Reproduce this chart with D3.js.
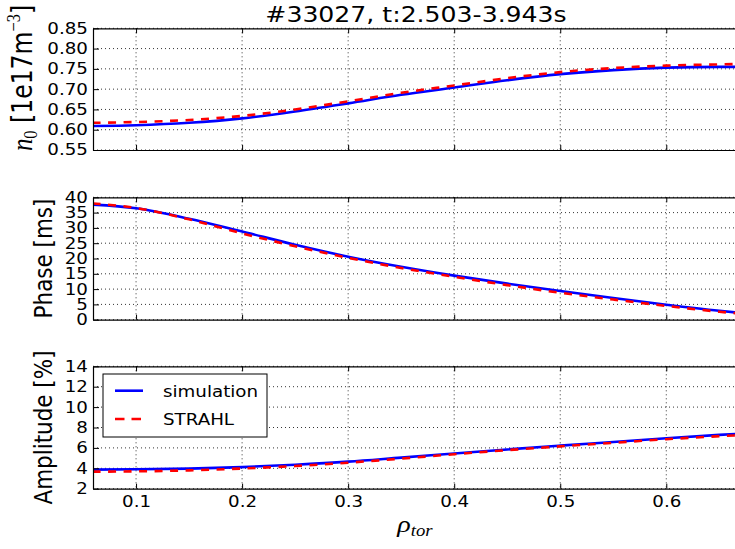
<!DOCTYPE html>
<html>
<head>
<meta charset="utf-8">
<script src="https://cdn.jsdelivr.net/npm/d3@7"></script>
<style>
  html, body { margin: 0; padding: 0; background: #fff; }
  svg { display: block; }
</style>
</head>
<body>
<div id="chart"></div>
<script>
// Radial coordinate (normalised toroidal flux radius)
const rho = [0.059, 0.10, 0.15, 0.20, 0.25, 0.30, 0.35, 0.40, 0.45, 0.50, 0.55, 0.60, 0.65, 0.67];

// Background density n0 [1e17 m^-3]
const densSim    = [0.609, 0.611, 0.617, 0.628, 0.645, 0.665, 0.686, 0.704, 0.722, 0.737, 0.747, 0.753, 0.755, 0.755];
const densStrahl = [0.617, 0.619, 0.624, 0.634, 0.650, 0.670, 0.691, 0.709, 0.727, 0.742, 0.752, 0.758, 0.761, 0.762];

// Modulation phase [ms]
const phaseSim    = [37.6, 36.4, 33.0, 28.8, 24.5, 20.6, 17.3, 14.4, 11.8, 9.4, 7.1, 4.9, 2.9, 2.2];
const phaseStrahl = [38.0, 36.5, 32.8, 28.2, 24.0, 20.2, 16.9, 14.0, 11.3, 8.8, 6.6, 4.5, 2.6, 2.0];

// Modulation amplitude [%]
const ampSim    = [3.87, 3.90, 3.97, 4.12, 4.35, 4.65, 5.05, 5.45, 5.85, 6.22, 6.58, 6.95, 7.28, 7.40];
const ampStrahl = [3.67, 3.70, 3.80, 3.98, 4.22, 4.55, 4.95, 5.38, 5.78, 6.15, 6.50, 6.85, 7.15, 7.25];

// Axis ticks
const xTicks = [0.1, 0.2, 0.3, 0.4, 0.5, 0.6];
const densTicks = [0.55, 0.60, 0.65, 0.70, 0.75, 0.80, 0.85];
const phaseTicks = [0, 5, 10, 15, 20, 25, 30, 35, 40];
const ampTicks = [2, 4, 6, 8, 10, 12, 14];

const titleText = "#33027, t:2.503-3.943s";
const seriesNames = ["simulation", "STRAHL"];

// ---------------------------------------------------------------
const W = 735, H = 549;
const SX = 1.17;            // horizontal glyph stretch
const FONT = "'DejaVu Sans', sans-serif";
const SERIF = "'Liberation Serif', 'DejaVu Serif', serif";
const TICK_FS = 15.6, LABEL_FS = 21.5;
const BLUE = "#0000ff", RED = "#ff0000";

const svg = d3.select("#chart").append("svg")
  .attr("width", W).attr("height", H)
  .attr("viewBox", `0 0 ${W} ${H}`);

const x = d3.scaleLinear().domain([0.0594, 0.6695]).range([93, 740]);

const panels = [
  { top: 28.3,  bottom: 150.0, domain: [0.55, 0.85], ticks: densTicks,  fmt: d3.format(".2f"), sim: densSim,  str: densStrahl,  label: "dens" },
  { top: 197.3, bottom: 319.7, domain: [0, 40],      ticks: phaseTicks, fmt: d3.format("d"),   sim: phaseSim, str: phaseStrahl, label: "Phase [ms]" },
  { top: 366.3, bottom: 488.7, domain: [2, 14],      ticks: ampTicks,   fmt: d3.format("d"),   sim: ampSim,   str: ampStrahl,   label: "Amplitude [%]" }
];

function stretch(sel, tx, ty, extra) {
  return sel.attr("transform", `translate(${tx},${ty}) scale(${SX},1)` + (extra ? " " + extra : ""));
}

panels.forEach((p, i) => {
  const y = d3.scaleLinear().domain(p.domain).range([p.bottom, p.top]);
  const g = svg.append("g");
  const clipId = "clip" + i;
  svg.append("clipPath").attr("id", clipId)
    .append("rect").attr("x", x.range()[0]).attr("y", p.top)
    .attr("width", x.range()[1] - x.range()[0]).attr("height", p.bottom - p.top);

  // dotted grid
  const grid = g.append("g").attr("stroke", "#000").attr("stroke-width", 0.8)
    .attr("stroke-dasharray", "1,3").attr("fill", "none");
  grid.selectAll("line.gx").data(xTicks).join("line")
    .attr("x1", d => x(d)).attr("x2", d => x(d))
    .attr("y1", p.top).attr("y2", p.bottom);
  grid.selectAll("line.gy").data(p.ticks).join("line")
    .attr("x1", x.range()[0]).attr("x2", x.range()[1])
    .attr("y1", d => y(d)).attr("y2", d => y(d));

  // curves
  const line = d3.line().x((d, k) => x(rho[k])).y(d => y(d)).curve(d3.curveMonotoneX);
  const curves = g.append("g").attr("clip-path", `url(#${clipId})`).attr("fill", "none");
  curves.append("path").datum(p.sim).attr("d", line)
    .attr("stroke", BLUE).attr("stroke-width", 2.6);
  curves.append("path").datum(p.str).attr("d", line)
    .attr("stroke", RED).attr("stroke-width", 2.6).attr("stroke-dasharray", "8,7.5");

  // axes with inward ticks
  const bottomAxis = d3.axisBottom(x).tickValues(xTicks).tickSizeInner(-5).tickSizeOuter(0)
    .tickPadding(7).tickFormat(i === 2 ? d3.format(".1f") : () => "");
  const topAxis = d3.axisTop(x).tickValues(xTicks).tickSizeInner(-5).tickSizeOuter(0).tickFormat(() => "");
  const leftAxis = d3.axisLeft(y).tickValues(p.ticks).tickSizeInner(-6).tickSizeOuter(0)
    .tickPadding(4.3).tickFormat(p.fmt);

  const ga = g.append("g").attr("transform", `translate(0,${p.bottom})`).call(bottomAxis);
  const gt = g.append("g").attr("transform", `translate(0,${p.top})`).call(topAxis);
  const gl = g.append("g").attr("transform", `translate(${x.range()[0]},0)`).call(leftAxis);

  [ga, gt, gl].forEach(a => {
    a.select(".domain").attr("stroke", "#000").attr("stroke-width", 1.2);
    a.selectAll(".tick line").attr("stroke", "#000").attr("stroke-width", 1);
    a.selectAll(".tick text").attr("fill", "#000")
      .attr("font-family", FONT).attr("font-size", TICK_FS)
      .attr("transform", `scale(${SX},1)`);
  });

  // y-axis label
  const cy = (p.top + p.bottom) / 2;
  if (p.label === "dens") {
    const t = stretch(svg.append("text"), 32, 78, "rotate(-90)")
      .attr("text-anchor", "middle").attr("font-size", 23.5)
      .attr("font-family", FONT).attr("fill", "#000");
    t.append("tspan").attr("font-family", SERIF).attr("font-style", "italic")
      .attr("font-size", 25).text("n");
    t.append("tspan").attr("font-family", SERIF).attr("font-size", 16.5).attr("dy", 4).text("0");
    t.append("tspan").attr("dy", -4).text("\u00a0[1e17m");
    t.append("tspan").attr("font-family", SERIF).attr("font-size", 16.5).attr("dy", -10).text("\u22123");
    t.append("tspan").attr("dy", 10).text("]");
  } else {
    stretch(svg.append("text"), 52, cy, "rotate(-90)")
      .attr("text-anchor", "middle").attr("font-size", LABEL_FS)
      .attr("font-family", FONT).attr("fill", "#000").text(p.label);
  }
});

// title
stretch(svg.append("text"), 416, 21.5)
  .attr("text-anchor", "middle").attr("font-family", FONT)
  .attr("font-size", LABEL_FS).attr("fill", "#000").text(titleText);

// x-axis label: rho_tor
const xl = stretch(svg.append("text"), 415, 532)
  .attr("text-anchor", "middle").attr("font-family", SERIF)
  .attr("font-style", "italic").attr("fill", "#000");
xl.append("tspan").attr("font-size", 24).text("\u03c1");
xl.append("tspan").attr("font-size", 16).attr("dy", 4).text("tor");

// legend
const lg = svg.append("g");
lg.append("rect").attr("x", 103).attr("y", 374).attr("width", 164).attr("height", 63)
  .attr("fill", "#fff").attr("stroke", "#000").attr("stroke-width", 1);
const legendRows = [
  { name: seriesNames[0], color: BLUE, dash: null, y: 390.7 },
  { name: seriesNames[1], color: RED, dash: "9.5,7", y: 419 }
];
legendRows.forEach(r => {
  lg.append("line").attr("x1", 115).attr("x2", 143).attr("y1", r.y).attr("y2", r.y)
    .attr("stroke", r.color).attr("stroke-width", 2.6)
    .attr("stroke-dasharray", r.dash);
  stretch(lg.append("text"), 163, r.y + 6)
    .attr("font-family", FONT).attr("font-size", TICK_FS).attr("fill", "#000").text(r.name);
});
</script>
</body>
</html>
